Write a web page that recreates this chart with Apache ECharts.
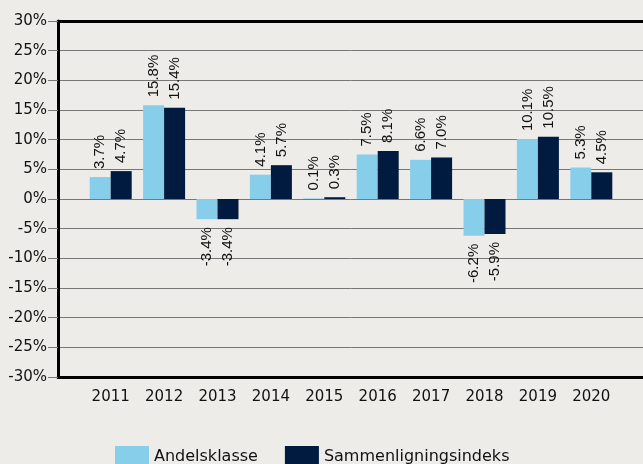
<!DOCTYPE html>
<html>
<head>
<meta charset="utf-8">
<script src="https://cdn.jsdelivr.net/npm/echarts@6/dist/echarts.min.js"></script>
<style>
  body { margin: 0; background: #edece8; }
  #chart { width: 643px; height: 464px; }
</style>
</head>
<body>
<div id="chart"></div>
<script>
  const years = ['2011', '2012', '2013', '2014', '2015', '2016', '2017', '2018', '2019', '2020'];
  const andelsklasse = [3.7, 15.8, -3.4, 4.1, 0.1, 7.5, 6.6, -6.2, 10.1, 5.3];
  const sammenligning = [4.7, 15.4, -3.4, 5.7, 0.3, 8.1, 7.0, -5.9, 10.5, 4.5];
  const seriesNames = ['Andelsklasse', 'Sammenligningsindeks'];

  // labels sit above positive bars and below negative ones
  function withLabels(values) {
    return values.map(function (v) {
      return {
        value: v,
        label: v < 0
          ? {position: 'bottom', align: 'right'}
          : {position: 'top', align: 'left'}
      };
    });
  }

  const barLabel = {
    show: true,
    rotate: 90,
    verticalAlign: 'middle',
    distance: 8,
    color: '#111',
    fontFamily: 'Liberation Sans, Arial, sans-serif',
    fontSize: 15,
    formatter: function (p) { return p.value.toFixed(1) + '%'; }
  };

  const chart = echarts.init(document.getElementById('chart'));
  chart.setOption({
    backgroundColor: '#edece8',
    animation: false,
    textStyle: {fontFamily: 'DejaVu Sans, sans-serif'},
    color: ['#87ceeb', '#001a40'],
    legend: {
      data: seriesNames,
      icon: 'rect',
      bottom: -9,
      left: 110,
      itemWidth: 34,
      itemHeight: 22,
      itemGap: 27,
      textStyle: {fontSize: 16, color: '#111'}
    },
    grid: [
      {left: 58, right: -10, top: 21, bottom: 87},
      {left: 84, right: 25, top: 21, bottom: 87}
    ],
    xAxis: [
      {
        type: 'category', gridIndex: 0, data: [''], position: 'bottom',
        axisLine: {onZero: false, lineStyle: {color: '#000', width: 3}},
        axisTick: {show: false}, axisLabel: {show: false}
      },
      {
        type: 'category', gridIndex: 0, data: [''], position: 'top',
        axisLine: {onZero: false, lineStyle: {color: '#000', width: 3}},
        axisTick: {show: false}, axisLabel: {show: false}
      },
      {
        type: 'category', gridIndex: 1, data: years,
        axisLine: {show: false}, axisTick: {show: false},
        axisLabel: {fontSize: 15, color: '#111', margin: 13}
      }
    ],
    yAxis: [
      {
        type: 'value', gridIndex: 0, min: -30, max: 30, interval: 5,
        axisLine: {show: true, lineStyle: {color: '#000', width: 3}},
        axisTick: {show: true, length: 10, lineStyle: {color: '#777'}},
        axisLabel: {fontSize: 15, color: '#111', margin: 11, formatter: '{value}%'},
        splitLine: {lineStyle: {color: '#777', width: 1}}
      },
      {
        type: 'value', gridIndex: 1, min: -30, max: 30, interval: 5,
        show: false, splitLine: {show: false}
      }
    ],
    series: [
      {
        name: seriesNames[0], type: 'bar', xAxisIndex: 2, yAxisIndex: 1,
        barWidth: 21, barGap: '0%',
        label: barLabel,
        data: withLabels(andelsklasse)
      },
      {
        name: seriesNames[1], type: 'bar', xAxisIndex: 2, yAxisIndex: 1,
        barWidth: 21, barGap: '0%',
        label: barLabel,
        data: withLabels(sammenligning)
      }
    ]
  });
</script>
</body>
</html>
